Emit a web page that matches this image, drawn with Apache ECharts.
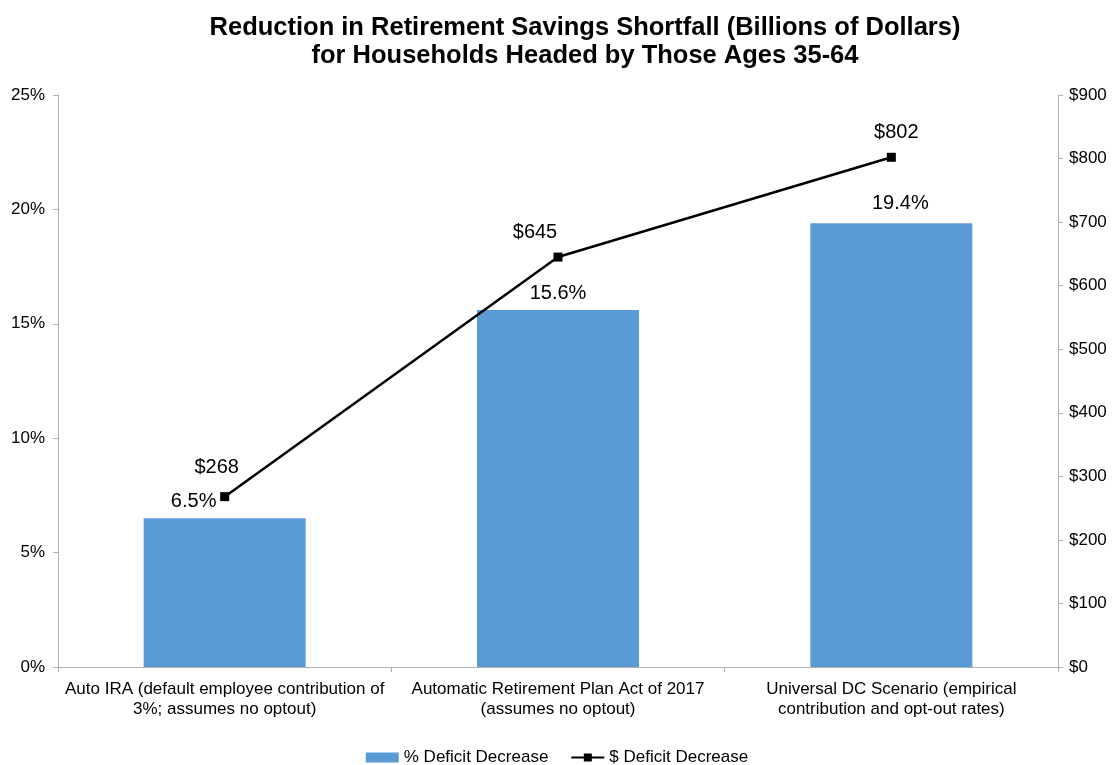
<!DOCTYPE html>
<html><head><meta charset="utf-8">
<script src="https://cdn.jsdelivr.net/npm/echarts@6/dist/echarts.min.js"></script>
<style>html,body{margin:0;padding:0;background:#fff}#c{width:1114px;height:765px}</style>
</head><body><div id="c"></div>
<script>
const categories = [
  'Auto IRA (default employee contribution of\n3%; assumes no optout)',
  'Automatic Retirement Plan Act of 2017\n(assumes no optout)',
  'Universal DC Scenario (empirical\ncontribution and opt-out rates)'
];
const pctDecrease = [6.5, 15.6, 19.4];
const dollarDecrease = [268, 645, 802];
const pctLabelOffsets = [[-31, 0], [0, 0], [9, -3]];
const dollarLabelOffsets = [[-8, -5], [-23, 0], [5, 0]];
const leftTicks = {min: 0, max: 25, interval: 5};
const rightTicks = {min: 0, max: 900, interval: 100};

const font = "'Liberation Sans', Arial, sans-serif";
const chart = echarts.init(document.getElementById('c'));
chart.setOption({
  backgroundColor: '#fff',
  animation: false,
  textStyle: {fontFamily: font},
  title: {
    text: 'Reduction in Retirement Savings Shortfall (Billions of Dollars)\nfor Households Headed by Those Ages 35-64',
    left: 580, top: 9, textAlign: 'center',
    textStyle: {fontSize: 25.5, fontWeight: 'bold', color: '#000', lineHeight: 28, fontFamily: font}
  },
  legend: {
    top: 744, left: 'center', itemGap: 22,
    itemWidth: 33, itemHeight: 10,
    textStyle: {fontSize: 17, color: '#000', fontFamily: font},
    data: [
      {name: '% Deficit Decrease', icon: 'rect'},
      {name: '$ Deficit Decrease'}
    ]
  },
  grid: {left: 58, right: 56, top: 95, bottom: 98},
  xAxis: {
    type: 'category', data: categories,
    axisLine: {lineStyle: {color: '#b0b0b0', width: 1}},
    axisTick: {show: true, length: 5, lineStyle: {color: '#b0b0b0'}},
    axisLabel: {fontSize: 17, color: '#000', lineHeight: 20, margin: 12, interval: 0, fontFamily: font}
  },
  yAxis: [
    {
      type: 'value', min: leftTicks.min, max: leftTicks.max, interval: leftTicks.interval,
      splitLine: {show: false},
      axisLine: {show: true, lineStyle: {color: '#b0b0b0'}},
      axisTick: {show: true, length: 5, lineStyle: {color: '#b0b0b0'}},
      axisLabel: {formatter: '{value}%', fontSize: 17, color: '#000', margin: 13, fontFamily: font}
    },
    {
      type: 'value', min: rightTicks.min, max: rightTicks.max, interval: rightTicks.interval,
      position: 'right',
      splitLine: {show: false},
      axisLine: {show: true, lineStyle: {color: '#b0b0b0'}},
      axisTick: {show: true, length: 5, lineStyle: {color: '#b0b0b0'}},
      axisLabel: {formatter: '${value}', fontSize: 17, color: '#000', margin: 11, fontFamily: font}
    }
  ],
  series: [
    {
      name: '% Deficit Decrease', type: 'bar', yAxisIndex: 0,
      barWidth: '48.6%',
      itemStyle: {color: '#5b9bd5'},
      data: pctDecrease.map((v, i) => ({
        value: v,
        label: {offset: pctLabelOffsets[i]}
      })),
      label: {show: true, position: 'top', distance: 7, formatter: p => p.value.toFixed(1) + '%',
        fontSize: 20, color: '#000', fontFamily: font}
    },
    {
      name: '$ Deficit Decrease', type: 'line', yAxisIndex: 1,
      symbol: 'rect', symbolSize: 9,
      lineStyle: {color: '#000', width: 2.5},
      itemStyle: {color: '#000'},
      data: dollarDecrease.map((v, i) => ({
        value: v,
        label: {offset: dollarLabelOffsets[i]}
      })),
      label: {show: true, position: 'top', distance: 10, formatter: p => '$' + p.value,
        fontSize: 20, color: '#000', fontFamily: font},
      z: 3
    }
  ]
});
</script></body></html>
